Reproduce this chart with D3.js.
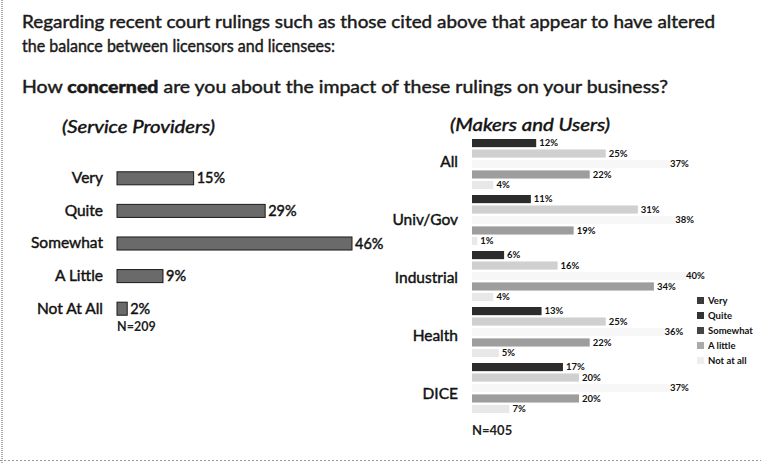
<!DOCTYPE html>
<html><head><meta charset="utf-8">
<script src="https://cdn.jsdelivr.net/npm/d3@7"></script>
<style>
body{margin:0;background:#fff;}
svg{display:block;font-family:"Lato","Open Sans",sans-serif;}
.med{stroke:#1a1a1a;stroke-width:0.45px;paint-order:stroke;}
</style></head>
<body><svg id="c" width="761" height="463"></svg>
<script>
// ---- data ----
const titleLines = ["Regarding recent court rulings such as those cited above that appear to have altered",
                    "the balance between licensors and licensees:"];
const spCategories = ["Very","Quite","Somewhat","A Little","Not At All"];
const spValues = [15,29,46,9,2];
const spN = "N=209";
const muGroups = ["All","Univ/Gov","Industrial","Health","DICE"];
const muSeries = ["Very","Quite","Somewhat","A little","Not at all"];
const muVery     = [12,11,6,13,17];
const muQuite    = [25,31,16,25,20];
const muSomewhat = [37,38,40,36,37];
const muALittle  = [22,19,34,22,20];
const muNotAtAll = [4,1,4,5,7];
const muN = "N=405";

const svg = d3.select("#c");
// border
svg.append("line").attr("x1",2).attr("x2",2).attr("y1",0).attr("y2",463)
  .attr("stroke","#777").attr("stroke-width",1.2).attr("stroke-dasharray","1,1");
svg.append("line").attr("x1",0).attr("x2",761).attr("y1",460.5).attr("y2",460.5)
  .attr("stroke","#999").attr("stroke-width",1).attr("stroke-dasharray","2,2");

// titles
svg.append("text").attr("class","med").attr("x",22).attr("y",28).text(titleLines[0])
  .attr("font-size",17.3).attr("fill","#1a1a1a")
  .attr("textLength",693).attr("lengthAdjust","spacingAndGlyphs");
svg.append("text").attr("class","med").attr("x",22).attr("y",52).text(titleLines[1])
  .attr("font-size",17.3).attr("fill","#1a1a1a")
  .attr("textLength",313).attr("lengthAdjust","spacingAndGlyphs");
const q = svg.append("text").attr("class","med").attr("x",22).attr("y",93).attr("font-size",17.3).attr("fill","#1a1a1a")
  .attr("textLength",646).attr("lengthAdjust","spacingAndGlyphs");
q.append("tspan").text("How ");
q.append("tspan").attr("font-weight",900).text("concerned");
q.append("tspan").text(" are you about the impact of these rulings on your business?");

svg.append("text").attr("class","med").attr("x",62).attr("y",133).attr("font-size",17.5).attr("font-style","italic")
  .attr("fill","#111").attr("textLength",153).attr("lengthAdjust","spacingAndGlyphs").text("(Service Providers)");
svg.append("text").attr("class","med").attr("x",450).attr("y",131).attr("font-size",17.5).attr("font-style","italic")
  .attr("fill","#111").attr("textLength",160).attr("lengthAdjust","spacingAndGlyphs").text("(Makers and Users)");

// ---- left chart ----
const xL = d3.scaleLinear().domain([0,46]).range([117,352]);
const yL = d3.scaleBand().domain(spCategories).range([162,325]).paddingInner(0.6).paddingOuter(0.3);
const gL = svg.append("g");
gL.selectAll("rect").data(spValues).join("rect")
  .attr("x",xL(0)).attr("y",(d,i)=>yL(spCategories[i]))
  .attr("width",d=>xL(d)-xL(0)).attr("height",yL.bandwidth())
  .attr("fill","#6a6a6a").attr("stroke","#1a1a1a").attr("stroke-width",1);
gL.selectAll("text.v").data(spValues).join("text").attr("class","v med")
  .attr("x",d=>xL(d)+3).attr("y",(d,i)=>yL(spCategories[i])+yL.bandwidth()/2)
  .attr("dy","0.35em").attr("font-size",14.5).attr("fill","#111").text(d=>d+"%");
const axL = d3.axisLeft(yL).tickSize(0).tickPadding(14);
const gAxL = svg.append("g").attr("transform",`translate(${xL(0)},0)`).call(axL);
gAxL.select(".domain").remove();
gAxL.selectAll("text").attr("class","med").attr("font-size",15.5).attr("fill","#111").attr("font-family","Lato");
svg.append("text").attr("x",117).attr("y",331).attr("font-size",12.5).attr("font-weight",700)
  .attr("fill","#222").text(spN);

// ---- right chart ----
const series = [muVery,muQuite,muSomewhat,muALittle,muNotAtAll];
const barFill = ["#2c2c2c","#d0d0d0","#f7f7f7","#9d9d9d","#e8e8e8"];
const legFill = ["#3a3a3a","#333","#444","#aaa","#eeeeee"];
const xR = d3.scaleLinear().domain([0,40]).range([472,686]);
const yR = d3.scaleBand().domain(muGroups).range([139,419]);
const yIn = d3.scaleBand().domain(muSeries).range([0,50]).paddingInner(0.22);
const gR = svg.append("g");
muGroups.forEach((g,gi)=>{
  series.forEach((s,si)=>{
    const y = yR(g)+yIn(muSeries[si]);
    gR.append("rect").attr("x",xR(0)).attr("y",y).attr("width",xR(s[gi])-xR(0))
      .attr("height",yIn.bandwidth()).attr("fill",barFill[si]);
    gR.append("text").attr("x",xR(s[gi])+ (si===2?0:3)).attr("y",y+yIn.bandwidth()/2)
      .attr("dy","0.35em").attr("font-size",9.5).attr("font-weight",700).attr("fill","#111")
      .text(s[gi]+"%");
  });
});
const gAxR = svg.append("g").attr("transform",`translate(${xR(0)},0)`)
  .call(d3.axisLeft(d3.scalePoint().domain(muGroups).range([162,394])).tickSize(0).tickPadding(14));
gAxR.select(".domain").remove();
gAxR.selectAll("text").attr("class","med").attr("font-size",15.5).attr("fill","#111").attr("font-family","Lato");
svg.append("text").attr("x",472).attr("y",435).attr("font-size",13).attr("font-weight",700)
  .attr("fill","#222").text(muN);

// legend
const lg = svg.append("g").attr("transform","translate(697,297)");
muSeries.forEach((s,i)=>{
  lg.append("rect").attr("x",0).attr("y",i*15).attr("width",7).attr("height",7).attr("fill",legFill[i]);
  lg.append("text").attr("x",11).attr("y",i*15+3.5).attr("dy","0.35em").attr("font-size",9.5)
    .attr("font-weight",700).attr("fill","#111").text(s);
});
</script></body></html>
